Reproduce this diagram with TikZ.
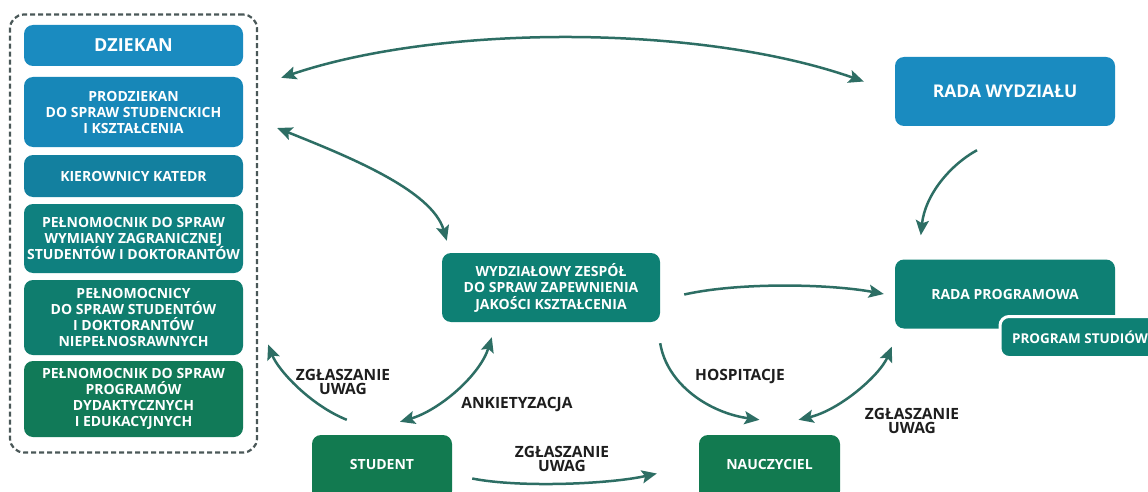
\documentclass[tikz,border=0pt]{standalone}
\usepackage{fontspec}
\setmainfont{Open Sans}
\usetikzlibrary{arrows.meta,calc}

\definecolor{niebieski}{HTML}{1A8BC0}
\definecolor{kol1}{HTML}{1A8BC0}
\definecolor{kol2}{HTML}{1787B8}
\definecolor{kol3}{HTML}{13809F}
\definecolor{kol4}{HTML}{0F807F}
\definecolor{kol5}{HTML}{0F7D6E}
\definecolor{kol6}{HTML}{117A58}
\definecolor{morski}{HTML}{0E8074}
\definecolor{zielony}{HTML}{127A50}
\definecolor{strzalkac}{HTML}{2D6E64}
\definecolor{ramkac}{HTML}{4A5858}
\definecolor{opisc}{HTML}{1E1E1E}

\begin{document}
\begin{tikzpicture}[x=1pt,y=-1pt,
    box/.style={rounded corners=9pt, inner sep=0pt, align=center, text=white,
        font=\bfseries\fontsize{14}{16}\selectfont},
    ramka/.style={draw=ramkac, line width=2.2pt, dash pattern=on 5pt off 3pt, rounded corners=14pt},
    str/.style={draw=strzalkac, line width=2.5pt, -{Stealth[length=15pt,width=13pt,inset=3pt]}},
    dwustr/.style={str, {Stealth[length=15pt,width=13pt,inset=3pt]}-{Stealth[length=15pt,width=13pt,inset=3pt]}},
    opis/.style={align=center, text=opisc, font=\bfseries\fontsize{15.5}{14.5}\selectfont}]

    \path[use as bounding box, fill=white] (0,0) rectangle (1148,492);

    % nodes (kadra wydzialu)
    \node[ramka, minimum width=247pt, minimum height=438pt] (kadra) at (133.5,233.5) {};
    \node[box, fill=kol1, minimum width=219pt, minimum height=41pt, font=\bfseries\fontsize{18}{20}\selectfont] (dziekan) at (133.5,45.5) {DZIEKAN};
    \node[box, fill=kol2, minimum width=219pt, minimum height=70pt] (prodziekan) at (133.5,112) {PRODZIEKAN\\DO SPRAW STUDENCKICH\\I KSZTAŁCENIA};
    \node[box, fill=kol3, minimum width=219pt, minimum height=42pt] (kierownicy) at (133.5,176) {KIEROWNICY KATEDR};
    \node[box, fill=kol4, minimum width=219pt, minimum height=69pt] (wymiana) at (133.5,238.5) {PEŁNOMOCNIK DO SPRAW\\WYMIANY ZAGRANICZNEJ\\STUDENTÓW I DOKTORANTÓW};
    \node[box, fill=kol5, minimum width=219pt, minimum height=75pt] (niepelno) at (133.5,317.5) {PEŁNOMOCNICY\\DO SPRAW STUDENTÓW\\I DOKTORANTÓW\\NIEPEŁNOSRAWNYCH};
    \node[box, fill=kol6, minimum width=219pt, minimum height=76pt] (programy) at (133.5,399) {PEŁNOMOCNIK DO SPRAW\\PROGRAMÓW\\DYDAKTYCZNYCH\\I EDUKACYJNYCH};

    % nodes (reszta)
    \node[box, fill=niebieski, minimum width=220pt, minimum height=69pt, font=\bfseries\fontsize{17.5}{19}\selectfont] (radaw) at (1005,91.5) {RADA WYDZIAŁU};
    \node[box, fill=morski, minimum width=218pt, minimum height=69pt, font=\bfseries\fontsize{14}{16.5}\selectfont] (zespol) at (551,287.5) {WYDZIAŁOWY ZESPÓŁ\\DO SPRAW ZAPEWNIENIA\\JAKOŚCI KSZTAŁCENIA};
    \node[box, fill=morski, minimum width=220pt, minimum height=69pt, font=\bfseries\fontsize{14}{16}\selectfont] (radap) at (1005,294) {RADA PROGRAMOWA};
    \node[box, fill=morski, draw=white, line width=3pt, minimum width=160pt, minimum height=41pt, font=\bfseries\fontsize{13.5}{16}\selectfont] (program) at (1080,337) {PROGRAM STUDIÓW};
    \node[box, fill=zielony, minimum width=140pt, minimum height=65pt, font=\bfseries\fontsize{14}{16}\selectfont] (student) at (382,467.5) {\raisebox{6pt}{STUDENT}};
    \node[box, fill=zielony, minimum width=141pt, minimum height=65pt, font=\bfseries\fontsize{14}{16}\selectfont] (naucz) at (769.5,467.5) {\raisebox{6pt}{NAUCZYCIEL}};

    % labels
    \node[opis] (uwagi1) at (343,382) {ZGŁASZANIE\\UWAG};
    \node[opis] (ankieta) at (517,405) {ANKIETYZACJA};
    \node[opis] (uwagi2) at (562,459) {ZGŁASZANIE\\UWAG};
    \node[opis] (hospit) at (740,377) {HOSPITACJE};
    \node[opis] (uwagi3) at (912,421) {ZGŁASZANIE\\UWAG};

	% edges
    \draw[dwustr] ($(prodziekan.north east)+(38,1)$) .. controls (440,24) and (700,24) .. ($(radaw.west)+(-31,-10)$); % kadra <-> rada wydzialu
    \draw[dwustr] ($(prodziekan.east)+(34,16)$) .. controls (347,156) and (432,190) .. ($(zespol.north west)+(5,-12)$); % prodziekan <-> zespol
    \draw[str] ($(radaw.south)+(-28,24)$) .. controls (950,165) and (925,195) .. ($(radap.north west)+(26,-24)$); % rada wydzialu -> rada programowa
    \draw[str] ($(zespol.east)+(24,7)$) .. controls (740,282) and (830,284) .. ($(radap.west)+(-11,0)$); % zespol -> rada programowa
    \draw[str] ($(zespol.south east)+(0,21)$) .. controls (667,385) and (710,413) .. ($(naucz.north)+(-10,-15)$); % zespol -> nauczyciel
    \draw[dwustr] ($(naucz.north)+(29,-15)$) .. controls (840,410) and (880,375) .. ($(radap.south west)+(-3,18)$); % nauczyciel <-> rada programowa
    \draw[dwustr] ($(student.north)+(18,-13)$) .. controls (440,410) and (480,375) .. ($(zespol.south west)+(50,15)$); % student <-> zespol
    \draw[str] ($(student.north west)+(35,-15)$) .. controls (310,405) and (278,370) .. ($(kadra.east)+(10,111)$); % student -> kadra
    \draw[str] ($(student.east)+(20,11)$) .. controls (520,488) and (610,484) .. ($(naucz.west)+(-42,6)$); % student -> nauczyciel

\end{tikzpicture}
\end{document}
